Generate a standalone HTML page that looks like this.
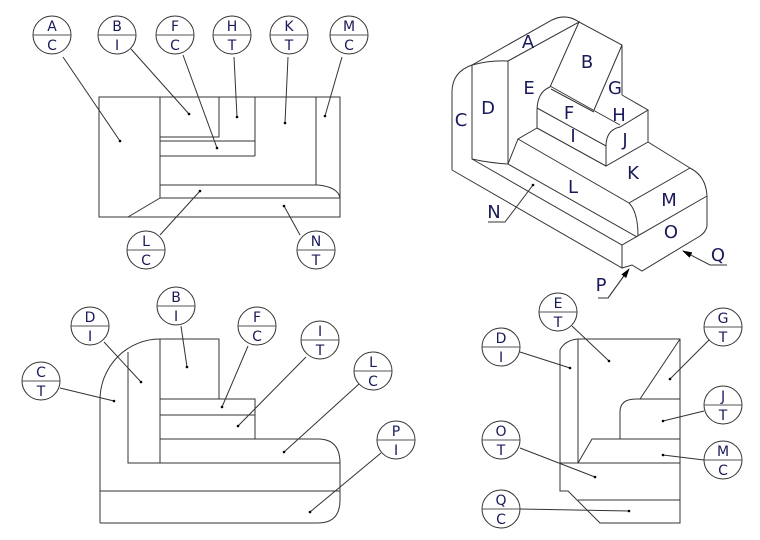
<!DOCTYPE html>
<html><head><meta charset="utf-8"><style>
html,body{margin:0;padding:0;background:#fff;}
svg{display:block;}
text{font-family:"DejaVu Sans","Liberation Sans",sans-serif;}
</style></head><body>
<svg width="760" height="540" viewBox="0 0 760 540" xmlns="http://www.w3.org/2000/svg">
<defs>
<g id="c"><circle r="19" fill="#fff" stroke="#333" stroke-width="1"/><line x1="-19" y1="0" x2="19" y2="0" stroke="#555" stroke-width="1"/></g>
<marker id="ar" markerWidth="10" markerHeight="6" refX="9" refY="3" orient="auto" markerUnits="userSpaceOnUse"><path d="M0,0 L10,3 L0,6z" fill="#000"/></marker>
</defs>
<g fill="none" stroke="#333" stroke-width="1">
<!-- Top-left view -->
<rect x="99" y="97" width="241" height="120"/>
<path d="M160 97 V198 L128 217"/>
<path d="M160 137 H219 V97"/>
<path d="M160 141 H255 M255 97 V156 M160 156 H255"/>
<path d="M160 185 H318 Q338 187 340 198 M316 97 V185 M160 198 H340"/>
<!-- Bottom-left view -->
<path d="M100 523 V400 A60 61 0 0 1 160 339 H219 V399"/>
<path d="M100 523 H318 Q340 523 340 500 V463 Q340 439 318 439 H160"/>
<path d="M128 352 V463 H340 M100 491 H340 M160 339 V463"/>
<path d="M160 399 H255 V439 M160 415 H255"/>
<!-- Bottom-right view -->
<path d="M578 339 H680 V523 H600 L568 491 H560 V350 Q565 340 578 339"/>
<path d="M578 339 V463 M560 463 H680 M578 463 L592 439 H680 M578 500 H680"/>
<path d="M620 439 V412 Q620 399 636 399 H680 M640 399 L680 339"/>
<!-- Isometric -->
<path d="M452 170 V92 Q452 72 472 65 L552 20 Q566 13 579 22 L622 45 V95"/>
<path d="M472 65 V159 Q490 163 508 164 V61 Q490 60 472 65"/>
<path d="M508 61 L579 22 L550 87 M622 45 L594 110"/>
<path d="M550 86 L620 125 M551 89 L594 112"/>
<path d="M537 128 V111 Q537 92 550 87 M537 108 L606 146 Q606 130 620 127 L648 110 L622 95"/>
<path d="M606 146 V166 L648 142 V110 M537 128 L606 166"/>
<path d="M537 128 L518 139 L508 164 M518 139 L629 203 Q638 212 638 236 M508 164 L637 237"/>
<path d="M472 159 L622 245 L707 196 M648 142 L690 168 Q706 176 707 196 V226 Q706 232 700 236 L642 271 L632 265 L622 268 M629 203 L690 168"/>
<path d="M452 170 L622 268 V245"/>
<!-- leaders -->
<path d="M63 57 L120 141 M131 49 L189 114 M183 55 L217 148 M234 57 L237 117 M288 57 L285 123 M342 57 L325 116 M160 235 L200 191 M300 235 L284 206"/>
<path d="M181 326 L187 367 M104 342 L141 382 M248 346 L222 407 M306 357 L238 426 M359 384 L284 452 M60 388 L114 401 M381 453 L310 512"/>
<path d="M572 326 L609 361 M520 352 L570 368 M709 340 L670 379 M704 411 L663 421 M520 448 L595 477 M704 460 L663 455 M520 509 L629 511"/>
<path d="M488 222 H505 L533 185 M598 298 H608 L628 270" />
<path d="M727 265 H710 L683 251" marker-end="url(#ar)"/>
<path d="M608 298 L629 269" marker-end="url(#ar)"/>
</g>
<g fill="#000">
<circle cx="120" cy="141" r="1.3"/><circle cx="189" cy="114" r="1.3"/><circle cx="217" cy="148" r="1.3"/><circle cx="237" cy="117" r="1.3"/><circle cx="285" cy="123" r="1.3"/><circle cx="325" cy="116" r="1.3"/><circle cx="200" cy="191" r="1.3"/><circle cx="284" cy="206" r="1.3"/>
<circle cx="187" cy="367" r="1.3"/><circle cx="141" cy="382" r="1.3"/><circle cx="222" cy="407" r="1.3"/><circle cx="238" cy="426" r="1.3"/><circle cx="284" cy="452" r="1.3"/><circle cx="114" cy="401" r="1.3"/><circle cx="310" cy="512" r="1.3"/>
<circle cx="609" cy="361" r="1.3"/><circle cx="570" cy="368" r="1.3"/><circle cx="670" cy="379" r="1.3"/><circle cx="663" cy="421" r="1.3"/><circle cx="595" cy="477" r="1.3"/><circle cx="663" cy="455" r="1.3"/><circle cx="629" cy="511" r="1.3"/><circle cx="533" cy="185" r="1.3"/>
</g>
<!-- balloons -->
<g font-size="14" text-anchor="middle" fill="#1a1a5a">
<g transform="translate(52,35)"><use href="#c"/><text y="-4">A</text><text y="15">C</text></g>
<g transform="translate(117,35)"><use href="#c"/><text y="-4">B</text><text y="15">I</text></g>
<g transform="translate(175,35)"><use href="#c"/><text y="-4">F</text><text y="15">C</text></g>
<g transform="translate(232,35)"><use href="#c"/><text y="-4">H</text><text y="15">T</text></g>
<g transform="translate(289,35)"><use href="#c"/><text y="-4">K</text><text y="15">T</text></g>
<g transform="translate(349,35)"><use href="#c"/><text y="-4">M</text><text y="15">C</text></g>
<g transform="translate(146,250)"><use href="#c"/><text y="-4">L</text><text y="15">C</text></g>
<g transform="translate(316,250)"><use href="#c"/><text y="-4">N</text><text y="15">T</text></g>
<g transform="translate(176,306)"><use href="#c"/><text y="-4">B</text><text y="15">I</text></g>
<g transform="translate(90,326)"><use href="#c"/><text y="-4">D</text><text y="15">I</text></g>
<g transform="translate(257,326)"><use href="#c"/><text y="-4">F</text><text y="15">C</text></g>
<g transform="translate(320,340)"><use href="#c"/><text y="-4">I</text><text y="15">T</text></g>
<g transform="translate(373,371)"><use href="#c"/><text y="-4">L</text><text y="15">C</text></g>
<g transform="translate(41,381)"><use href="#c"/><text y="-4">C</text><text y="15">T</text></g>
<g transform="translate(396,440)"><use href="#c"/><text y="-4">P</text><text y="15">I</text></g>
<g transform="translate(558,312)"><use href="#c"/><text y="-4">E</text><text y="15">T</text></g>
<g transform="translate(501,347)"><use href="#c"/><text y="-4">D</text><text y="15">I</text></g>
<g transform="translate(723,327)"><use href="#c"/><text y="-4">G</text><text y="15">T</text></g>
<g transform="translate(723,405)"><use href="#c"/><text y="-4">J</text><text y="15">T</text></g>
<g transform="translate(501,440)"><use href="#c"/><text y="-4">O</text><text y="15">T</text></g>
<g transform="translate(723,460)"><use href="#c"/><text y="-4">M</text><text y="15">C</text></g>
<g transform="translate(501,509)"><use href="#c"/><text y="-4">Q</text><text y="15">C</text></g>
</g>
<!-- iso labels -->
<g font-size="18" text-anchor="middle" fill="#1a1a5a">
<text x="528" y="48">A</text><text x="587" y="68">B</text><text x="615" y="94">G</text><text x="529" y="94">E</text>
<text x="488" y="114">D</text><text x="461" y="126">C</text><text x="569" y="119">F</text><text x="619" y="121">H</text>
<text x="573" y="142">I</text><text x="625" y="146">J</text><text x="633" y="179">K</text><text x="573" y="193">L</text>
<text x="669" y="206">M</text><text x="671" y="238">O</text><text x="494" y="218">N</text><text x="718" y="261">Q</text><text x="601" y="291">P</text>
</g>
</svg>
</body></html>
